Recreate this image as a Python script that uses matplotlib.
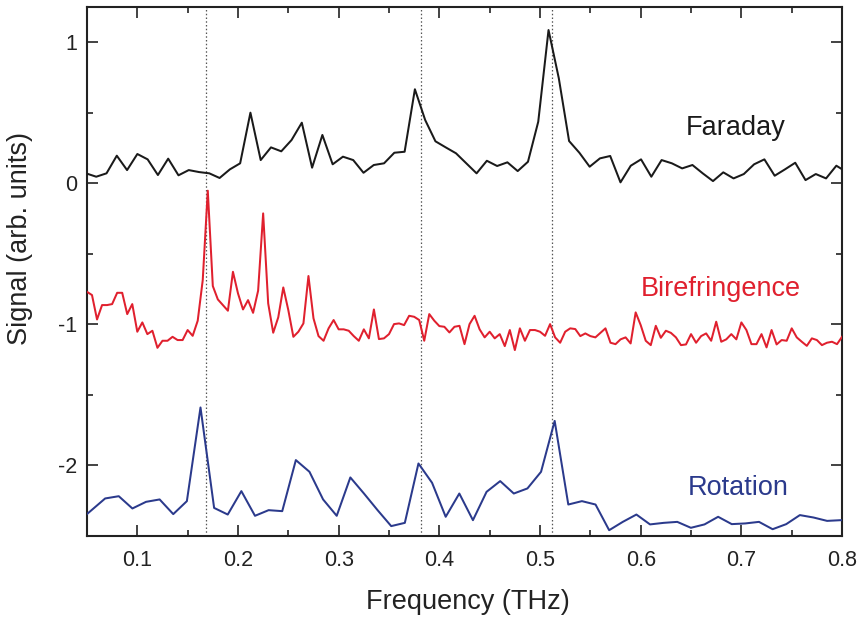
import numpy as np
import matplotlib
matplotlib.use("Agg")
import matplotlib.pyplot as plt
from matplotlib.ticker import MultipleLocator

plt.rcParams['font.family'] = ['Liberation Sans', 'DejaVu Sans']

# ---- data ----
faraday_start, faraday_step = 0.049, 0.01021
faraday = [0.071, 0.047, 0.071, 0.196, 0.094, 0.208, 0.170, 0.059, 0.175, 0.057,
           0.094, 0.080, 0.071, 0.038, 0.099, 0.142, 0.501, 0.165, 0.255, 0.227,
           0.307, 0.430, 0.111, 0.343, 0.135, 0.189, 0.165, 0.075, 0.130, 0.142,
           0.217, 0.224, 0.667, 0.449, 0.298, 0.255, 0.213, 0.142, 0.071,
           0.160, 0.123, 0.149, 0.087, 0.153, 0.437, 1.087, 0.745, 0.300, 0.217,
           0.118, 0.177, 0.194, 0.007, 0.125, 0.170, 0.047, 0.165, 0.142, 0.106,
           0.130, 0.071, 0.016, 0.078, 0.035, 0.066, 0.135, 0.170, 0.054, 0.099,
           0.146, 0.023, 0.066, 0.035, 0.125, 0.080]

biref_start, biref_step = 0.05, 0.005
birefringence = [
    -0.769, -0.792, -0.965, -0.863, -0.863, -0.856, -0.776, -0.776, -0.927, -0.856,
    -1.052, -0.986, -1.069, -1.045, -1.166, -1.116, -1.116, -1.088, -1.111, -1.111,
    -1.040, -1.081, -0.974, -0.686, -0.052, -0.728, -0.823, -0.863, -0.903, -0.627,
    -0.780, -0.894, -0.828, -0.918, -0.761, -0.213, -0.851, -1.059, -0.950, -0.738,
    -0.899, -1.088, -1.052, -0.993, -0.657, -0.957, -1.083, -1.116, -1.028, -0.969,
    -1.035, -1.035, -1.045, -1.083, -1.116, -1.035, -1.099, -0.894, -1.104, -1.099,
    -1.069, -0.998, -0.993, -1.005, -0.939, -0.946, -0.969, -1.116, -0.927, -0.974,
    -1.012, -1.017, -1.057, -1.017, -1.010, -1.140, -0.998, -0.939, -1.035,
    -1.092, -1.052, -1.099, -1.069, -1.154, -1.040, -1.182, -1.028, -1.116, -1.040,
    -1.040, -1.052, -1.081, -0.998, -1.092, -1.130, -1.052, -1.028, -1.033, -1.083,
    -1.064, -1.083, -1.092, -1.060, -1.028, -1.130, -1.140, -1.106, -1.092, -1.135,
    -0.915, -1.005, -1.116, -1.147, -1.010, -1.095, -1.045, -1.060, -1.092, -1.147,
    -1.142, -1.069, -1.130, -1.083, -1.064, -1.116, -0.981, -1.123, -1.106, -1.069,
    -1.106, -0.986, -1.040, -1.140, -1.140, -1.069, -1.163, -1.040, -1.142, -1.111,
    -1.116, -1.028, -1.092, -1.123, -1.152, -1.099, -1.111, -1.147, -1.130, -1.123,
    -1.140, -1.088]

rot_start, rot_step = 0.041, 0.01353
rotation = [-2.400, -2.317, -2.234, -2.218, -2.305, -2.258, -2.241, -2.345, -2.253, -1.589,
            -2.301, -2.348, -2.182, -2.357, -2.317, -2.324, -1.962, -2.045, -2.241, -2.357,
            -2.085, -2.199, -2.317, -2.430, -2.407, -1.986, -2.123, -2.364, -2.199, -2.388,
            -2.187, -2.111, -2.199, -2.163, -2.045, -1.684, -2.277, -2.253, -2.277, -2.459,
            -2.400, -2.348, -2.418, -2.407, -2.400, -2.442, -2.418, -2.364, -2.416, -2.411,
            -2.400, -2.452, -2.416, -2.352, -2.369, -2.393, -2.388, -2.390]

mode_lines = [0.168, 0.382, 0.512]

labels = ["Faraday", "Birefringence", "Rotation"]
label_pos = [(0.645, 0.343), (0.600, -0.799), (0.647, -2.211)]
colors = ["#1a1a1a", "#e0202e", "#2b3a8c"]

xtick_vals = [0.1, 0.2, 0.3, 0.4, 0.5, 0.6, 0.7, 0.8]
xtick_labels = ["0.1", "0.2", "0.3", "0.4", "0.5", "0.6", "0.7", "0.8"]
ytick_vals = [-2, -1, 0, 1]
ytick_labels = ["-2", "-1", "0", "1"]

# ---- plot ----
fig = plt.figure(figsize=(8.61, 6.22), dpi=100)
ax = fig.add_axes([0.101, 0.1383, 0.877, 0.8504])

f_far = faraday_start + faraday_step * np.arange(len(faraday))
f_bir = biref_start + biref_step * np.arange(len(birefringence))
f_rot = rot_start + rot_step * np.arange(len(rotation))

for xv in mode_lines:
    ax.axvline(xv, color="#555555", lw=0.9, ls=(0, (1.2, 1.8)), zorder=1)

ax.plot(f_far, faraday, color=colors[0], lw=1.45, zorder=3)
ax.plot(f_bir, birefringence, color=colors[1], lw=1.45, zorder=3)
ax.plot(f_rot, rotation, color=colors[2], lw=1.45, zorder=3)

for lab, (tx, ty), c in zip(labels, label_pos, colors):
    ax.text(tx, ty, lab, color=c, fontsize=19.5, ha="left", va="baseline")

ax.set_xlim(0.05, 0.8)
ax.set_ylim(-2.5, 1.25)
ax.xaxis.set_minor_locator(MultipleLocator(0.05))
ax.yaxis.set_minor_locator(MultipleLocator(0.5))
ax.set_xticks(xtick_vals)
ax.set_xticklabels(xtick_labels)
ax.set_yticks(ytick_vals)
ax.set_yticklabels(ytick_labels)

ax.tick_params(which="both", direction="in", top=True, right=True,
               colors="#222222", width=1.2, labelsize=15.5)
ax.tick_params(which="major", length=8)
ax.tick_params(which="minor", length=4.5)
ax.tick_params(axis="x", which="major", pad=10)
ax.tick_params(axis="y", which="major", pad=7)

for sp in ax.spines.values():
    sp.set_linewidth(1.5)
    sp.set_color("#222222")

ax.set_xlabel("Frequency (THz)", fontsize=19.5, color="#222222")
ax.set_ylabel("Signal (arb. units)", fontsize=19.5, color="#222222")
ax.xaxis.set_label_coords(0.505, -0.100)
ax.yaxis.set_label_coords(-0.0715, 0.563)

fig.savefig("out.png", dpi=100)
